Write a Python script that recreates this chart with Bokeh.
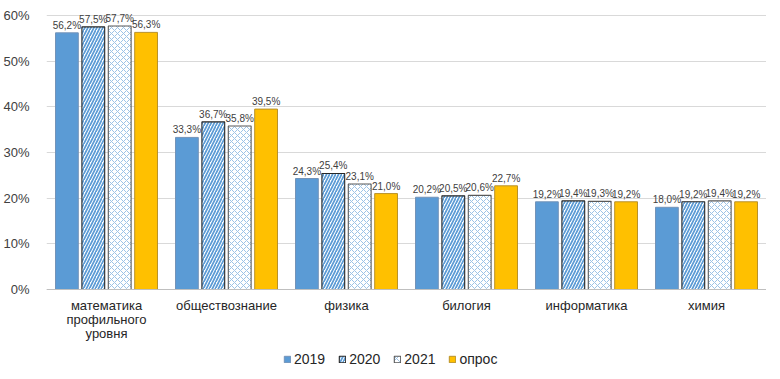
from bokeh.plotting import figure
from bokeh.models import ColumnDataSource, FactorRange, Legend, LegendItem, FixedTicker, Span
from bokeh.transform import dodge
from bokeh.core.properties import value
from bokeh.embed import file_html
from bokeh.resources import INLINE

categories = ["математика\nпрофильного\nуровня", "обществознание", "физика", "билогия", "информатика", "химия"]
series_names = ["2019", "2020", "2021", "опрос"]
v2019 = [56.2, 33.3, 24.3, 20.2, 19.2, 18.0]
v2020 = [57.5, 36.7, 25.4, 20.5, 19.4, 19.2]
v2021 = [57.7, 35.8, 23.1, 20.6, 19.3, 19.4]
vopros = [56.3, 39.5, 21.0, 22.7, 19.2, 19.2]
y_ticks = [0, 10, 20, 30, 40, 50, 60]

def fmt(v):
    return ("%.1f%%" % v).replace(".", ",")

data = dict(cat=categories, base=[0] * len(categories))
for name, vals in zip(series_names, [v2019, v2020, v2021, vopros]):
    data[name] = vals
    data[name + "_lbl"] = [fmt(v) for v in vals]
src = ColumnDataSource(data)

FONT = "Liberation Sans"
p = figure(frame_width=720, frame_height=370, x_range=FactorRange(*categories), y_range=(-17.74, 63.28),
           output_backend="svg", toolbar_location=None,
           min_border_left=0, min_border_right=0, min_border_top=0, min_border_bottom=0)
p.outline_line_color = None
p.background_fill_color = "white"
p.xaxis.visible = False

offsets = [-0.33, -0.11, 0.11, 0.33]
w = 0.19
styles = [
    dict(fill_color="#5B9BD5", line_color="#7393b8", line_width=1),
    dict(fill_color="white", line_color="#262626", line_width=1.1,
         hatch_pattern="right_diagonal_line", hatch_color="#5B9BD5", hatch_scale=6, hatch_weight=1.7),
    dict(fill_color="white", line_color="#595959", line_width=1.1,
         hatch_pattern="diagonal_cross", hatch_color="#9DC3E6", hatch_scale=6, hatch_weight=1.0),
    dict(fill_color="#FFC000", line_color="#b8912a", line_width=1),
]

p.ygrid.grid_line_color = "#d9d9d9"
p.ygrid.ticker = FixedTicker(ticks=y_ticks)
p.xgrid.grid_line_color = None
p.add_layout(Span(location=0, dimension="width", line_color="#bfbfbf", line_width=1.2))

items = []
for name, off, st in zip(series_names, offsets, styles):
    r = p.vbar(x=dodge("cat", off, range=p.x_range), top=name, width=w, bottom=0, source=src, **st)
    p.text(x=dodge("cat", off, range=p.x_range), y=name, text=name + "_lbl", source=src,
           text_align="center", text_baseline="bottom", y_offset=-2,
           text_font=value(FONT), text_font_size="10px", text_color="#404040")
    items.append(LegendItem(label=name, renderers=[r]))

# category labels under the baseline
p.text(x="cat", y="base", text="cat", source=src, text_align="center", text_baseline="top",
       y_offset=9, text_font=value(FONT), text_font_size="13px", text_color="#262626",
       text_line_height=0.93)

p.yaxis.ticker = FixedTicker(ticks=y_ticks)
p.yaxis.major_label_overrides = {t: "%d%%" % t for t in y_ticks}
p.yaxis.axis_line_color = None
p.yaxis.major_tick_line_color = None
p.yaxis.minor_tick_line_color = None
p.yaxis.major_tick_out = 0
p.yaxis.major_tick_in = 0
p.yaxis.major_label_text_font = FONT
p.yaxis.major_label_text_font_size = "13px"
p.yaxis.major_label_text_color = "#404040"
p.yaxis.major_label_standoff = 17

legend = Legend(items=items, orientation="horizontal", location=(237, 3),
                label_text_font=FONT, label_text_font_size="14px",
                label_text_color="#262626", glyph_width=8, glyph_height=8,
                spacing=13, label_standoff=3, border_line_color=None,
                background_fill_alpha=0, padding=2, margin=0)
p.add_layout(legend, "center")

open("out.html", "w").write(file_html(p, INLINE))
